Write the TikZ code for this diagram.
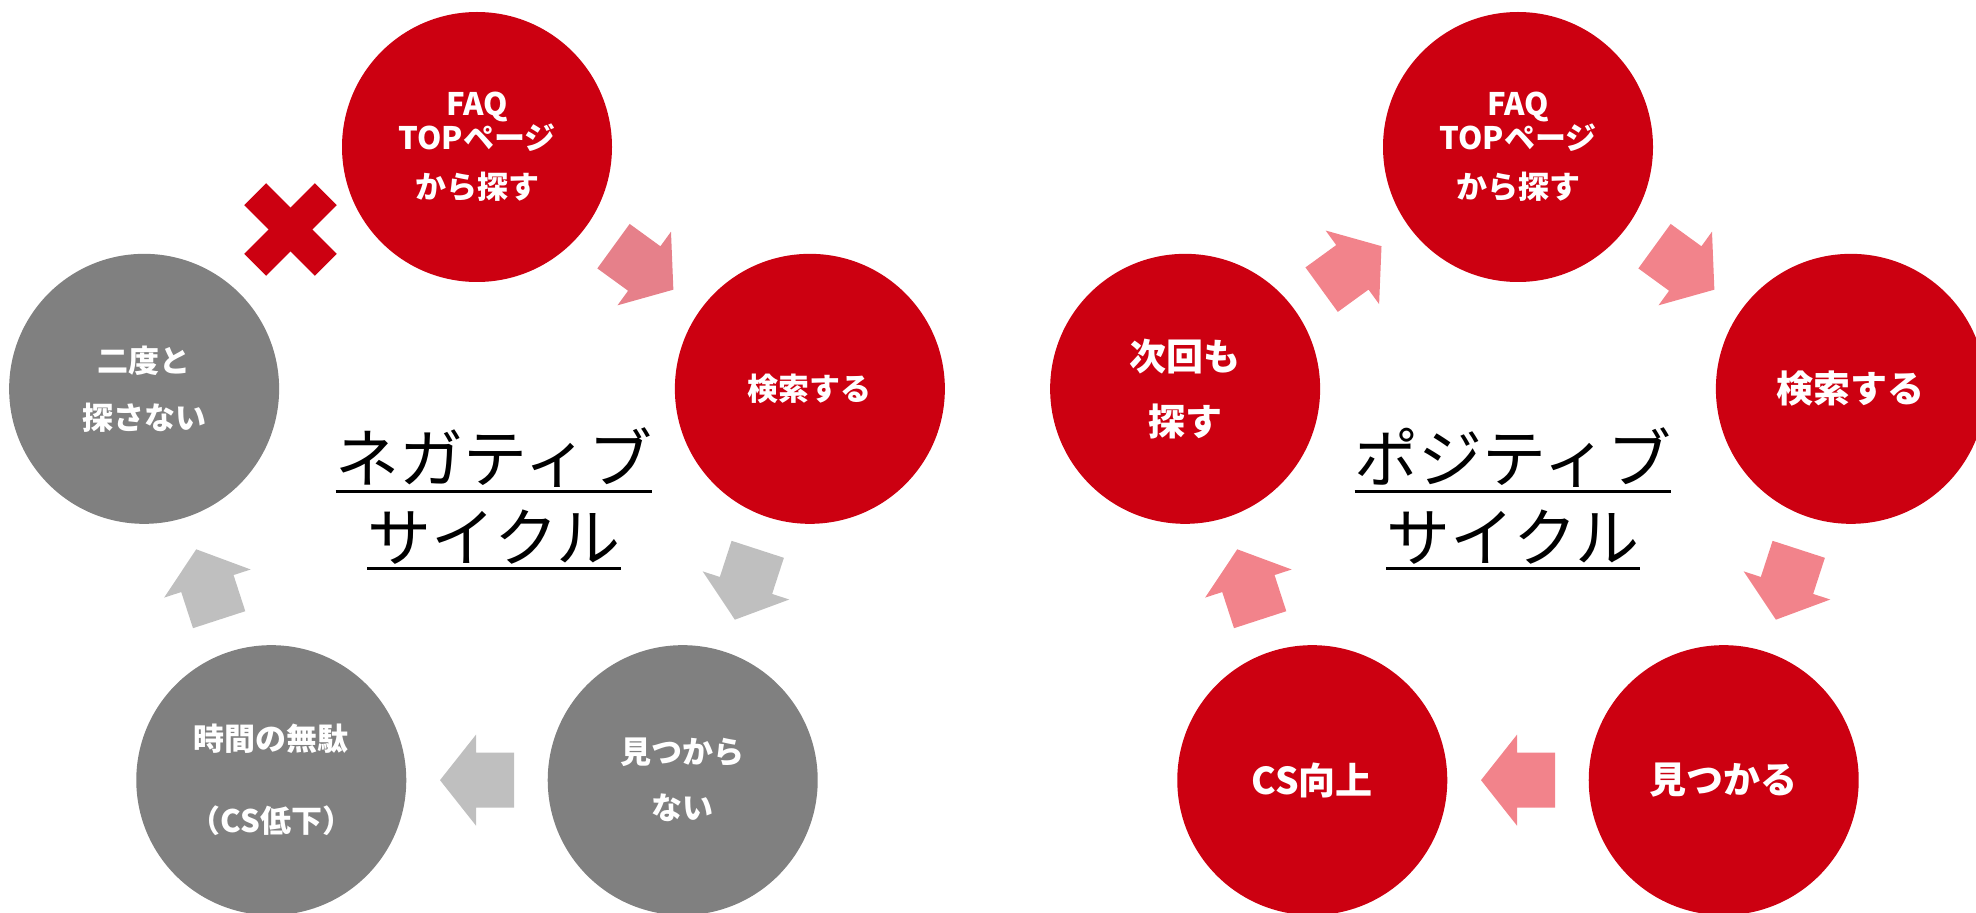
\documentclass[tikz,border=0pt]{standalone}
\usepackage{fontspec}
\newfontfamily\jpfont{Noto Sans CJK JP}
\usepackage{xcolor}
\usetikzlibrary{calc}

\definecolor{cycred}{HTML}{CC0011}
\definecolor{cycgray}{HTML}{808080}
\definecolor{arrgray}{HTML}{BFBFBF}
\definecolor{arrpinkA}{HTML}{E6808A}
\definecolor{arrpinkB}{HTML}{F2838B}

\tikzset{
  stage/.style={circle, minimum size=135pt, inner sep=0pt, text=white, align=center,
    font=\jpfont\bfseries\fontsize{15.5}{15.5}\selectfont},
  redstage/.style={stage, fill=cycred},
  graystage/.style={stage, fill=cycgray},
  bigtext/.style={font=\jpfont\bfseries\fontsize{18.5}{18.5}\selectfont},
  cycletitle/.style={inner sep=0pt, anchor=south, font=\jpfont\fontsize{32}{32}\selectfont},
  uline/.style={line width=1.5pt},
  xbar/.style={rectangle, fill=cycred, inner sep=0pt, minimum width=50pt, minimum height=15.5pt},
  pics/blockarrow/.style={code={
    \fill[#1] (-37,-27.5) -- (1,-27.5) -- (1,-45.5) -- (37,0) -- (1,45.5) -- (1,27.5) -- (-37,27.5) -- cycle;
  }}
}

\begin{document}
\begin{tikzpicture}[x=0.5pt, y=0.5pt]
  \useasboundingbox (0,0) rectangle (1976,912);
  \coordinate (L) at (477,415);
  \coordinate (R) at (1518,415);

  % negative cycle
  \node[redstage] (nfaq) at ($(L)+(90:350)$) {FAQ\\TOPページ\\[9pt]から探す};
  \node[redstage] (nsearch) at ($(L)+(18:350)$) {検索する};
  \node[graystage] (nnotfound) at ($(L)+(-54:350)$) {見つから\\[12.5pt]ない};
  \node[graystage] (nwaste) at ($(L)+(-126:350)$) {時間の無駄\\[25.5pt]（CS低下）};
  \node[graystage] (nnever) at ($(L)+(162:350)$) {二度と\\[13pt]探さない};

  \foreach \a/\b/\r/\c in {nfaq/nsearch/-36/arrpinkA, nsearch/nnotfound/-108/arrgray,
      nnotfound/nwaste/180/arrgray, nwaste/nnever/108/arrgray}
    \pic[rotate=\r] at ($(\a)!.5!(\b)$) {blockarrow=\c};

  % cross
  \coordinate (xm) at (290.5,682.5);
  \foreach \r/\n in {45/xbarA, -45/xbarB}
    \node[xbar, rotate=\r] (\n) at (xm) {};

  \node[cycletitle] (ntitleA) at (494,424) {ネガティブ};
  \node[cycletitle] (ntitleB) at (494,347) {サイクル};

  % positive cycle
  \node[redstage] (pfaq) at ($(R)+(90:350)$) {FAQ\\TOPページ\\[9pt]から探す};
  \node[redstage, bigtext] (psearch) at ($(R)+(18:350)$) {検索する};
  \node[redstage, bigtext] (pfound) at ($(R)+(-54:350)$) {見つかる};
  \node[redstage, bigtext] (pcs) at ($(R)+(-126:350)$) {CS向上};
  \node[redstage, bigtext] (pnext) at ($(R)+(162:350)$) {次回も\\[14pt]探す};

  \foreach \a/\b/\r in {pnext/pfaq/36, pfaq/psearch/-36, psearch/pfound/-108,
      pfound/pcs/180, pcs/pnext/108}
    \pic[rotate=\r] at ($(\a)!.5!(\b)$) {blockarrow=arrpinkB};

  \node[cycletitle] (ptitleA) at (1513,424) {ポジティブ};
  \node[cycletitle] (ptitleB) at (1513,347) {サイクル};

  % underlines
  \foreach \t in {ntitleA, ntitleB, ptitleA, ptitleB}
    \draw[uline] ([yshift=-1.5pt]\t.south west) -- ([yshift=-1.5pt]\t.south east);
\end{tikzpicture}
\end{document}
